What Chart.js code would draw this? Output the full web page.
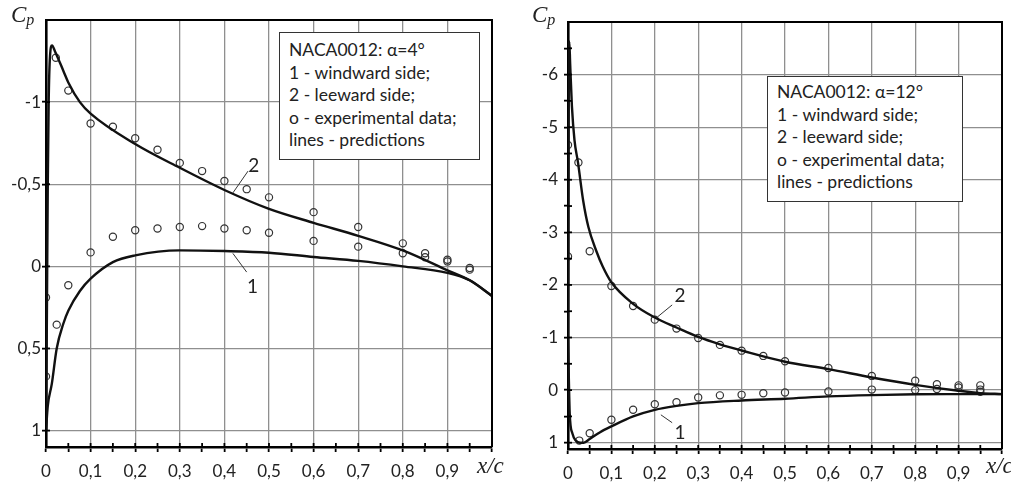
<!DOCTYPE html>
<html lang="en">
<head>
    <meta charset="UTF-8">
    <title>NACA0012 pressure distribution</title>
    <script src="https://cdn.jsdelivr.net/npm/chart.js"></script>
    <style>
        body {
            margin: 0;
            background: #fff;
            font-family: Lato, "Open Sans", sans-serif;
        }
        .wrap {
            position: relative;
            width: 1011px;
            height: 487px;
            overflow: hidden;
        }
        .box {
            position: absolute;
            width: 505px;
            height: 487px;
            top: 0;
        }
        .note {
            position: absolute;
            background: #fff;
            border: 1.3px solid #333;
            font-size: 17.5px;
            line-height: 22.5px;
            color: #222;
            padding-left: 9px;
            box-sizing: border-box;
            white-space: nowrap;
        }
        .axname {
            position: absolute;
            font-family: "Liberation Serif", "DejaVu Serif", serif;
            font-style: italic;
            font-size: 23px;
            color: #222;
        }
        .axname sub {
            font-size: 16px;
            vertical-align: -3px;
        }
    </style>
</head>
<body>
<div class="wrap">
    <div class="box" style="left:0"><canvas id="chartLeft"></canvas></div>
    <div class="box" style="left:505px;width:506px"><canvas id="chartRight"></canvas></div>

    <div class="axname" style="left:11px;top:2px">C<sub>p</sub></div>
    <div class="axname" style="left:477px;top:453px">x/c</div>
    <div class="axname" style="left:532px;top:2px">C<sub>p</sub></div>
    <div class="axname" style="left:986px;top:453px">x/c</div>

    <div class="note" style="left:279px;top:32px;width:201px;height:128px;padding-top:6px">
        NACA0012: &alpha;=4&deg;<br>1 - windward side;<br>2 - leeward side;<br>o - experimental data;<br>lines - predictions
    </div>
    <div class="note" style="left:767px;top:76px;width:196px;height:126px;padding-top:4px">
        NACA0012: &alpha;=12&deg;<br>1 - windward side;<br>2 - leeward side;<br>o - experimental data;<br>lines - predictions
    </div>
</div>

<script>
    // x axis (same for both plots)
    var xTicks = [0, 0.05, 0.1, 0.15, 0.2, 0.25, 0.3, 0.35, 0.4, 0.45, 0.5, 0.55, 0.6, 0.65, 0.7, 0.75, 0.8, 0.85, 0.9, 0.95, 1];
    var xTickLabels = ["0", "", "0,1", "", "0,2", "", "0,3", "", "0,4", "", "0,5", "", "0,6", "", "0,7", "", "0,8", "", "0,9", "", ""];

    // alpha = 4 deg
    var yTicksL = [-1, -0.5, 0, 0.5, 1];
    var yTickLabelsL = ["-1", "-0,5", "0", "0,5", "1"];

    var leeLineXL = [0, 0.002, 0.004, 0.006, 0.009, 0.0135, 0.02, 0.039, 0.05, 0.076, 0.1, 0.2, 0.3, 0.4, 0.5, 0.6, 0.7, 0.8, 0.9, 0.95, 1];
    var leeLineCpL = [1, 0.3, -0.5, -1.0, -1.28, -1.345, -1.31, -1.19, -1.12, -1.0, -0.93, -0.745, -0.6, -0.465, -0.35, -0.265, -0.186, -0.097, 0.024, 0.085, 0.18];
    var windLineXL = [0, 0.004, 0.013, 0.024, 0.039, 0.05, 0.076, 0.1, 0.15, 0.2, 0.3, 0.4, 0.5, 0.6, 0.7, 0.8, 0.9, 0.95, 1];
    var windLineCpL = [1, 0.85, 0.716, 0.5, 0.348, 0.27, 0.15, 0.075, -0.026, -0.067, -0.097, -0.093, -0.083, -0.057, -0.033, 0, 0.04, 0.085, 0.18];

    var leeExpXL = [0.022, 0.05, 0.1, 0.15, 0.2, 0.25, 0.3, 0.35, 0.4, 0.45, 0.5, 0.6, 0.7, 0.8, 0.85, 0.9, 0.95];
    var leeExpCpL = [-1.27, -1.07, -0.87, -0.85, -0.78, -0.71, -0.63, -0.58, -0.52, -0.47, -0.42, -0.33, -0.24, -0.14, -0.08, -0.04, 0.01];
    var windExpXL = [0, 0, 0.024, 0.05, 0.1, 0.15, 0.2, 0.25, 0.3, 0.35, 0.4, 0.45, 0.5, 0.6, 0.7, 0.8, 0.85, 0.9, 0.95];
    var windExpCpL = [0.19, 0.67, 0.355, 0.115, -0.085, -0.18, -0.22, -0.23, -0.24, -0.245, -0.23, -0.22, -0.205, -0.155, -0.12, -0.08, -0.055, -0.03, 0.02];

    // alpha = 12 deg
    var yTicksR = [-6.5, -6, -5.5, -5, -4.5, -4, -3.5, -3, -2.5, -2, -1.5, -1, -0.5, 0, 0.5, 1];
    var yTickLabelsR = ["", "-6", "", "-5", "", "-4", "", "-3", "", "-2", "", "-1", "", "0", "", "1"];

    var leeLineXR = [0, 0.002, 0.003, 0.005, 0.009, 0.015, 0.023, 0.035, 0.047, 0.065, 0.08, 0.1, 0.15, 0.2, 0.25, 0.3, 0.35, 0.4, 0.5, 0.6, 0.7, 0.8, 0.9, 0.95, 1];
    var leeLineCpR = [-1, -6.4, -6.63, -6.2, -5.4, -4.75, -4.33, -3.6, -3.1, -2.65, -2.35, -2.05, -1.64, -1.38, -1.19, -1.01, -0.87, -0.753, -0.54, -0.4, -0.24, -0.1, 0.013, 0.057, 0.076];
    var windLineXR = [0, 0.004, 0.01, 0.018, 0.028, 0.036, 0.05, 0.074, 0.1, 0.15, 0.2, 0.25, 0.3, 0.4, 0.5, 0.6, 0.7, 0.8, 0.9, 1];
    var windLineCpR = [-1, 0.45, 0.82, 0.96, 1.0, 1.0, 0.93, 0.8, 0.69, 0.5, 0.375, 0.3, 0.247, 0.197, 0.165, 0.12, 0.095, 0.08, 0.077, 0.076];

    var leeExpXR = [0, 0.024, 0, 0.05, 0.1, 0.15, 0.2, 0.25, 0.3, 0.35, 0.4, 0.45, 0.5, 0.6, 0.7, 0.8, 0.85, 0.9, 0.95];
    var leeExpCpR = [-4.66, -4.33, -2.54, -2.64, -1.98, -1.6, -1.34, -1.17, -0.99, -0.86, -0.75, -0.65, -0.55, -0.42, -0.27, -0.18, -0.11, -0.09, -0.09];
    var windExpXR = [0.026, 0.05, 0.1, 0.15, 0.2, 0.25, 0.3, 0.35, 0.4, 0.45, 0.5, 0.6, 0.7, 0.8, 0.85, 0.9, 0.95, 0.95];
    var windExpCpR = [0.96, 0.82, 0.565, 0.375, 0.27, 0.23, 0.14, 0.1, 0.09, 0.06, 0.045, 0.025, -0.01, 0, -0.02, -0.05, -0.01, 0.03];

    // curve numbers: [text, x, cp, leader x0, cp0, x1, cp1]
    var marksL = [["2", 0.466, -0.61, 0.419, -0.447, 0.453, -0.58], ["1", 0.463, 0.125, 0.419, -0.079, 0.45, 0.035]];
    var marksR = [["2", 0.258, -1.8, 0.206, -1.39, 0.24, -1.62], ["1", 0.258, 0.81, 0.214, 0.47, 0.24, 0.62]];

    function pts(xs, ys) {
        return xs.map(function (x, i) { return { x: x, y: ys[i] }; });
    }

    function lineSet(xs, ys) {
        return {
            data: pts(xs, ys), showLine: true, pointRadius: 0,
            borderColor: "#111", borderWidth: 2.4, cubicInterpolationMode: "monotone"
        };
    }

    function expSet(xs, ys) {
        return {
            data: pts(xs, ys), showLine: false, pointRadius: 3.6,
            pointBorderColor: "#333", pointBorderWidth: 1.2, pointBackgroundColor: "rgba(0,0,0,0)"
        };
    }

    // frame, inner tick marks and curve numbers
    var extras = {
        id: "extras",
        afterDraw: function (chart) {
            var ctx = chart.ctx, a = chart.chartArea;
            var xs = chart.scales.x, ys = chart.scales.y;
            ctx.save();
            ctx.strokeStyle = "#000";
            ctx.lineWidth = 2;
            ctx.beginPath();
            ctx.moveTo(a.left, a.top); ctx.lineTo(a.right, a.top); ctx.lineTo(a.right, a.bottom);
            ctx.stroke();
            ctx.lineWidth = 1.8;
            xs.ticks.forEach(function (t) {
                var p = xs.getPixelForValue(t.value);
                ctx.beginPath(); ctx.moveTo(p, a.bottom); ctx.lineTo(p, a.bottom - 4); ctx.stroke();
            });
            ys.ticks.forEach(function (t) {
                var p = ys.getPixelForValue(t.value);
                ctx.beginPath(); ctx.moveTo(a.left, p); ctx.lineTo(a.left + 4, p); ctx.stroke();
            });
            var marks = chart.options.plugins.extras.marks;
            ctx.font = "19px Lato";
            ctx.textAlign = "center";
            ctx.textBaseline = "middle";
            marks.forEach(function (m) {
                var tx = xs.getPixelForValue(m[1]), ty = ys.getPixelForValue(m[2]);
                ctx.fillStyle = "#fff";
                ctx.fillRect(tx - 6, ty - 9, 12, 18);
                ctx.fillStyle = "#222";
                ctx.fillText(m[0], tx, ty);
                ctx.strokeStyle = "#333";
                ctx.lineWidth = 1;
                ctx.beginPath();
                ctx.moveTo(xs.getPixelForValue(m[3]), ys.getPixelForValue(m[4]));
                ctx.lineTo(xs.getPixelForValue(m[5]), ys.getPixelForValue(m[6]));
                ctx.stroke();
            });
            ctx.restore();
        }
    };

    function makeChart(id, o) {
        return new Chart(document.getElementById(id), {
            type: "scatter",
            data: { datasets: o.datasets },
            plugins: [extras],
            options: {
                responsive: true,
                maintainAspectRatio: false,
                animation: false,
                layout: { padding: { top: o.top, right: o.right, left: 0, bottom: 0 } },
                plugins: { legend: { display: false }, tooltip: { enabled: false }, extras: { marks: o.marks } },
                scales: {
                    x: {
                        type: "linear", min: 0, max: 1,
                        afterBuildTicks: function (s) { s.ticks = xTicks.map(function (v) { return { value: v }; }); },
                        afterFit: function (s) { s.height = o.xh; },
                        ticks: {
                            autoSkip: false, maxRotation: 0, padding: 9, color: "#222",
                            font: { family: "Lato", size: 17 },
                            callback: function (v, i) { return xTickLabels[i]; }
                        },
                        grid: {
                            color: function (c) { return c.index % 2 === 0 ? "#8f8f8f" : "rgba(0,0,0,0)"; },
                            lineWidth: 1.3, tickColor: "#000", tickLength: 5, tickWidth: 1.8
                        },
                        border: { color: "#000", width: 2.6 }
                    },
                    y: {
                        type: "linear", min: o.ymin, max: o.ymax, reverse: true,
                        afterBuildTicks: function (s) { s.ticks = o.yTicks.map(function (v) { return { value: v }; }); },
                        afterFit: function (s) { s.width = o.yw; },
                        ticks: {
                            autoSkip: false, padding: o.ypad, color: "#222",
                            font: { family: "Lato", size: 17 },
                            callback: function (v, i) { return o.yLabels[i]; }
                        },
                        grid: {
                            color: function (c) { return o.yLabels[c.index] !== "" ? "#8f8f8f" : "rgba(0,0,0,0)"; },
                            lineWidth: 1.3, tickColor: "#000", tickLength: 4, tickWidth: 1.8
                        },
                        border: { color: "#000", width: 2.6 }
                    }
                }
            }
        });
    }

    makeChart("chartLeft", {
        datasets: [lineSet(leeLineXL, leeLineCpL), lineSet(windLineXL, windLineCpL), expSet(leeExpXL, leeExpCpL), expSet(windExpXL, windExpCpL)],
        yTicks: yTicksL, yLabels: yTickLabelsL, ymin: -1.5, ymax: 1.1,
        top: 20, right: 13, yw: 46, xh: 40, ypad: 1, marks: marksL
    });

    makeChart("chartRight", {
        datasets: [lineSet(leeLineXR, leeLineCpR), lineSet(windLineXR, windLineCpR), expSet(leeExpXR, leeExpCpR), expSet(windExpXR, windExpCpR)],
        yTicks: yTicksR, yLabels: yTickLabelsR, ymin: -7, ymax: 1.12,
        top: 22, right: 5, yw: 63, xh: 38, ypad: 6, marks: marksR
    });
</script>
</body>
</html>
